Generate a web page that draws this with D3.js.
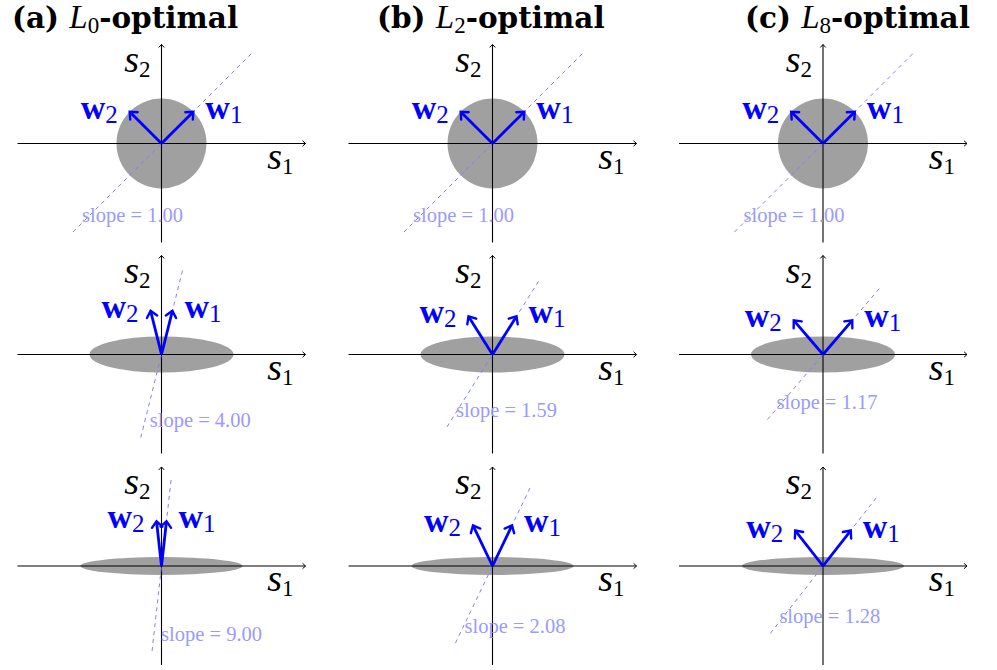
<!DOCTYPE html>
<html>
<head>
<meta charset="utf-8">
<script src="https://cdn.jsdelivr.net/npm/d3@7"></script>
<style>
  html, body { margin: 0; padding: 0; background: #fff; }
  svg { display: block; }
</style>
</head>
<body>
<div id="chart"></div>
<script>
// panel titles (one per column)
const panelTags = ['(a)', '(b)', '(c)'];
const normSubs = ['0', '2', '8'];

// source ellipse semi-axes, one per row
const ellipseA = [1.0, 1.6, 1.8];
const ellipseB = [1.0, 0.4, 0.2];

// fitted slope of w1, one array per column (rows top to bottom)
const slopesL0 = [1.00, 4.00, 9.00];
const slopesL2 = [1.00, 1.59, 2.08];
const slopesL8 = [1.00, 1.17, 1.28];
const slopes = [slopesL0, slopesL2, slopesL8];

// dashed line reach below / above the origin along its direction, per row
const lineLow = [2.78, 1.9, 1.9];
const lineHigh = [2.85, 2.0, 2.0];

// axis ranges
const xDomain = [-3.2, 3.2];
const yDomain = [-2.2, 2.2];

const W = 997, H = 670;
const unit = 45; // px per unit
const originX = [161.5, 492.5, 823];
const originY = [143.5, 354.5, 566];
const titleX = [12, 377, 745];

const serif = '"DejaVu Serif", serif';
const times = '"Liberation Serif", serif';

const svg = d3.select('#chart')
  .append('svg')
  .attr('width', W)
  .attr('height', H);

const x = d3.scaleLinear().domain(xDomain).range([xDomain[0] * unit, xDomain[1] * unit]);
const y = d3.scaleLinear().domain(yDomain).range([-yDomain[0] * unit, -yDomain[1] * unit]);

// small open arrow head at (tx,ty) pointing along (dx,dy) in px
function headPath(tx, ty, dx, dy, len, spread) {
  const a = Math.atan2(dy, dx);
  const p1 = [tx - len * Math.cos(a - spread), ty - len * Math.sin(a - spread)];
  const p2 = [tx - len * Math.cos(a + spread), ty - len * Math.sin(a + spread)];
  return `M${p1[0]},${p1[1]}L${tx},${ty}L${p2[0]},${p2[1]}`;
}

// titles
panelTags.forEach((tag, c) => {
  const t = svg.append('text')
    .attr('x', titleX[c])
    .attr('y', 28)
    .attr('font-family', serif)
    .attr('font-size', 29.5)
    .attr('fill', '#000');
  t.append('tspan').attr('font-weight', 'bold').text(tag + ' ');
  t.append('tspan').attr('font-family', times).attr('font-style', 'italic').attr('font-size', 33).text('L');
  t.append('tspan').attr('font-family', times).attr('font-size', 23).attr('dy', 5).text(normSubs[c]);
  t.append('tspan').attr('font-weight', 'bold').attr('dy', -5).text('-optimal');
});

slopes.forEach((colSlopes, c) => {
  colSlopes.forEach((slope, r) => {
    const g = svg.append('g')
      .attr('transform', `translate(${originX[c]},${originY[r]})`);

    // source distribution
    g.append('ellipse')
      .attr('cx', x(0))
      .attr('cy', y(0))
      .attr('rx', x(ellipseA[r]) - x(0))
      .attr('ry', y(0) - y(ellipseB[r]))
      .attr('fill', '#a0a0a0');

    // axes
    g.append('line')
      .attr('x1', x(xDomain[0])).attr('y1', y(0))
      .attr('x2', x(xDomain[1])).attr('y2', y(0))
      .attr('stroke', '#000').attr('stroke-width', 1.1);
    g.append('path')
      .attr('d', headPath(x(xDomain[1]), y(0), 1, 0, 4, 0.75))
      .attr('fill', 'none').attr('stroke', '#000').attr('stroke-width', 1);
    g.append('line')
      .attr('x1', x(0)).attr('y1', y(yDomain[0]))
      .attr('x2', x(0)).attr('y2', y(yDomain[1]))
      .attr('stroke', '#000').attr('stroke-width', 1.1);
    g.append('path')
      .attr('d', headPath(x(0), y(yDomain[1]), 0, -1, 4, 0.75))
      .attr('fill', 'none').attr('stroke', '#000').attr('stroke-width', 1);

    // axis labels
    const s1 = g.append('text')
      .attr('x', x(xDomain[1]) - 12)
      .attr('y', y(0) + 25)
      .attr('text-anchor', 'end')
      .attr('font-family', times)
      .attr('font-size', 38);
    s1.append('tspan').attr('font-style', 'italic').text('s');
    s1.append('tspan').attr('font-size', 23).attr('dy', 5).text('1');

    const s2 = g.append('text')
      .attr('x', x(0) - 11)
      .attr('y', y(0) - 72)
      .attr('text-anchor', 'end')
      .attr('font-family', times)
      .attr('font-size', 38);
    s2.append('tspan').attr('font-style', 'italic').text('s');
    s2.append('tspan').attr('font-size', 23).attr('dy', 5).text('2');

    // dashed fit line
    const theta = Math.atan(slope);
    const ux = Math.cos(theta), uy = Math.sin(theta);
    const lo = [-lineLow[r] * ux, -lineLow[r] * uy];
    const hi = [lineHigh[r] * ux, lineHigh[r] * uy];
    g.append('line')
      .attr('x1', x(lo[0])).attr('y1', y(lo[1]))
      .attr('x2', x(hi[0])).attr('y2', y(hi[1]))
      .attr('stroke', '#7f7fff')
      .attr('stroke-width', 1)
      .attr('stroke-dasharray', '4,4');

    g.append('text')
      .attr('x', x(lo[0]) + 9)
      .attr('y', y(lo[1]) - 10)
      .attr('font-family', times)
      .attr('font-size', 20.5)
      .attr('fill', '#9a9aff')
      .text('slope = ' + d3.format('.2f')(slope));

    // basis vectors
    const vecs = [
      { name: '1', vx: ux, vy: uy, side: 1 },
      { name: '2', vx: -ux, vy: uy, side: -1 }
    ];
    vecs.forEach(v => {
      const tx = x(v.vx), ty = y(v.vy);
      g.append('line')
        .attr('x1', x(0)).attr('y1', y(0))
        .attr('x2', tx).attr('y2', ty)
        .attr('stroke', '#0000ff')
        .attr('stroke-width', 2.8);
      g.append('path')
        .attr('d', headPath(tx, ty, tx - x(0), ty - y(0), 8, 0.72))
        .attr('fill', 'none')
        .attr('stroke', '#0000ff')
        .attr('stroke-width', 2.4)
        .attr('stroke-linecap', 'round');
      const lab = g.append('text')
        .attr('x', tx + v.side * 12)
        .attr('y', ty + 7)
        .attr('text-anchor', v.side > 0 ? 'start' : 'end')
        .attr('font-family', times)
        .attr('fill', '#0000ff')
        .attr('font-size', 34);
      lab.append('tspan').attr('font-weight', 'bold').text('w');
      lab.append('tspan').attr('font-size', 25).attr('dy', 4).text(v.name);
    });
  });
});
</script>
</body>
</html>
